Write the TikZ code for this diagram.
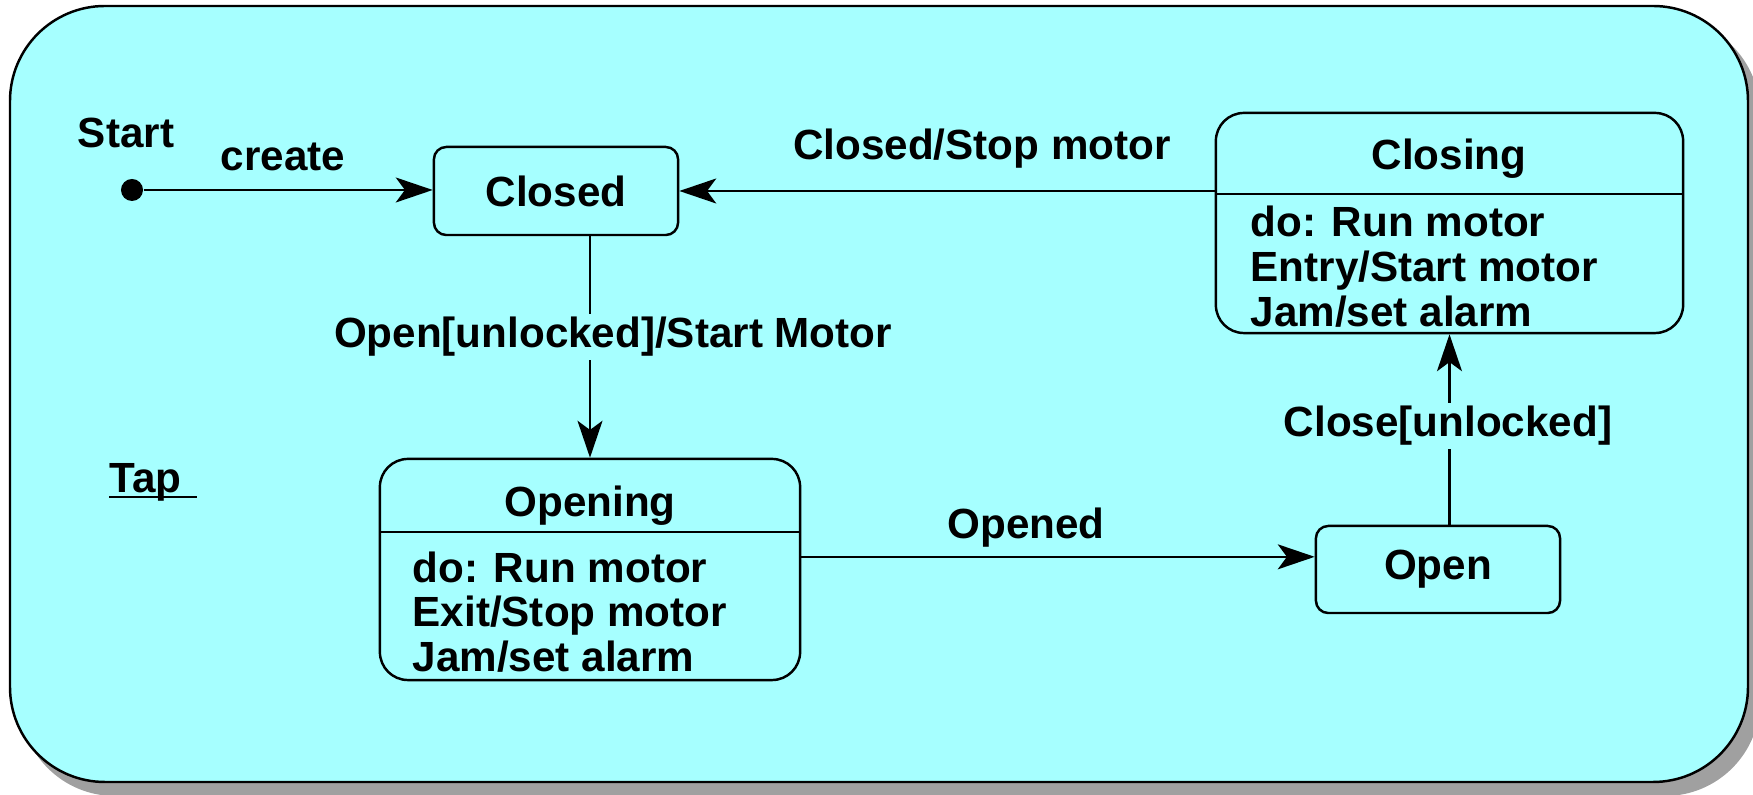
\documentclass[tikz,border=0pt]{standalone}
\usepackage{fontspec}
\setmainfont{Liberation Sans}
\usetikzlibrary{arrows.meta}
\definecolor{tapbg}{RGB}{166,255,255}
\definecolor{tapshadow}{RGB}{160,160,160}

\begin{document}
\begin{tikzpicture}[x=0.01cm,y=-0.01cm,
  font=\fontsize{12}{12.7}\selectfont\bfseries,
  state/.style={draw,line width=0.7pt,rounded corners=3.5pt,inner sep=0pt},
  trans/.style={line width=0.6pt,-{Stealth[length=10.5pt,width=7.1pt,inset=2.6pt]}},
  lbl/.style={inner sep=0pt,anchor=base},
  cut/.style={fill=tapbg,inner sep=1pt,anchor=base},
  line/.style={inner sep=0pt,anchor=base west}]%
\useasboundingbox (0,0) rectangle (1753,795);%
% frame
\fill[tapshadow,rounded corners=27pt] (20,18) rectangle (1760,796);%
\filldraw[fill=tapbg,line width=0.7pt,rounded corners=27pt] (10,6) rectangle (1748,782);%
\node[line] (tap) at (109,493) {Tap};%
\draw[line width=0.7pt] (109,497) -- (197,497);%
% states
\node[circle,fill,inner sep=0pt,minimum size=0.22cm] (start) at (132,190) {};%
\node[lbl] (startname) at (126,148) {Start};%
\node[state,minimum width=2.44cm,minimum height=0.88cm] (closed) at (556,191) {Closed};%
\node[state,minimum width=2.44cm,minimum height=0.87cm] (open) at (1438,569.5) {Open};%
\node[state,rounded corners=8pt,minimum width=4.2cm,minimum height=2.21cm] (opening) at (590,569.5) {};%
\draw[line width=0.7pt] (380,532) -- (800,532);%
\node[lbl] (openingname) at (590,517) {Opening};%
\node[line] (opening1) at (412,583) {do: Run motor};%
\node[line] (opening2) at (412,627) {Exit/Stop motor};%
\node[line] (opening3) at (412,672) {Jam/set alarm};%
\node[state,rounded corners=8pt,minimum width=4.67cm,minimum height=2.2cm] (closing) at (1449.5,223) {};%
\draw[line width=0.7pt] (1216,194) -- (1683,194);%
\node[lbl] (closingname) at (1449,170) {Closing};%
\node[line] (closing1) at (1250,237) {do: Run motor};%
\node[line] (closing2) at (1250,282) {Entry/Start motor};%
\node[line] (closing3) at (1250,327) {Jam/set alarm};%
% transitions
\draw[trans] (start) -- (start -| closed.west);%
\draw[trans] (closed.south -| opening.north) -- (opening.north);%
\draw[trans] ([yshift=3.6pt]opening.east) -- ([yshift=3.6pt]open.west);%
\draw[trans] (open.north -| closing.south) -- (closing.south);%
\draw[trans] (closing.west |- closed.east) -- (closed.east);%
\node[lbl] (create) at (283,171) {create};%
\node[cut] (openlbl) at (613,348) {Open[unlocked]/Start Motor};%
\node[lbl] (openedlbl) at (1026,539) {Opened};%
\node[cut] (closelbl) at (1448,437) {Close[unlocked]};%
\node[lbl] (stoplbl) at (982,160) {Closed/Stop motor};%
\end{tikzpicture}
\end{document}
